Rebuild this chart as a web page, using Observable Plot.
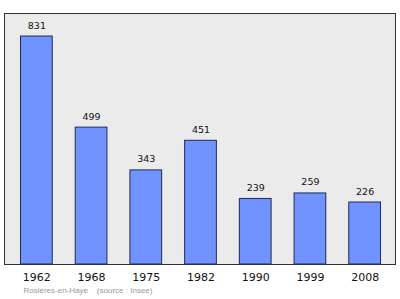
<!DOCTYPE html>
<html><head><meta charset="utf-8">
<script src="https://cdn.jsdelivr.net/npm/d3@7"></script>
<script src="https://cdn.jsdelivr.net/npm/@observablehq/plot@0.6"></script>
<style>body{margin:0;background:#fff;}</style>
</head><body><div id="chart"></div>
<script>
const years = ["1962","1968","1975","1982","1990","1999","2008"];
const population = [831,499,343,451,239,259,226];
const captionText = ["Rosières-en-Haye    (source : Insee)"];
const data = years.map((y,i)=>({year:y, pop:population[i]}));
const chart = Plot.plot({
  width: 400, height: 299,
  marginLeft: 4, marginRight: 5, marginTop: 13, marginBottom: 35,
  style: {fontFamily: "DejaVu Sans, sans-serif", background: "#fff"},
  x: {domain: years, round: false, insetLeft: 5, insetRight: 3, paddingInner: 0.42, paddingOuter: 0.21, label: null, tickSize: 0, tickPadding: 9},
  y: {domain: [0, 915], axis: null},
  marks: [
    Plot.frame({fill: "#ebebeb", stroke: "none"}),
    Plot.barY(data, {x: "year", y: "pop", fill: "#7093ff", stroke: "#1f2a55", strokeWidth: 1}),
    Plot.text(data, {x: "year", y: "pop", text: d => String(d.pop), dy: -11, fontSize: 9.5, fill: "#111"}),
    Plot.frame({stroke: "#333", strokeWidth: 1}),
    Plot.axisX({tickSize: 0, tickPadding: 9, fontSize: 11, fill: "#111", label: null}),
    Plot.text(captionText, {text: d => d, frameAnchor: "bottom-left", dx: 19, dy: 28, textAnchor: "start", fontSize: 8, fontFamily: "Liberation Sans, Arial, sans-serif", fill: "#999"})
  ]
});
document.getElementById("chart").appendChild(chart);
</script>
</body></html>
